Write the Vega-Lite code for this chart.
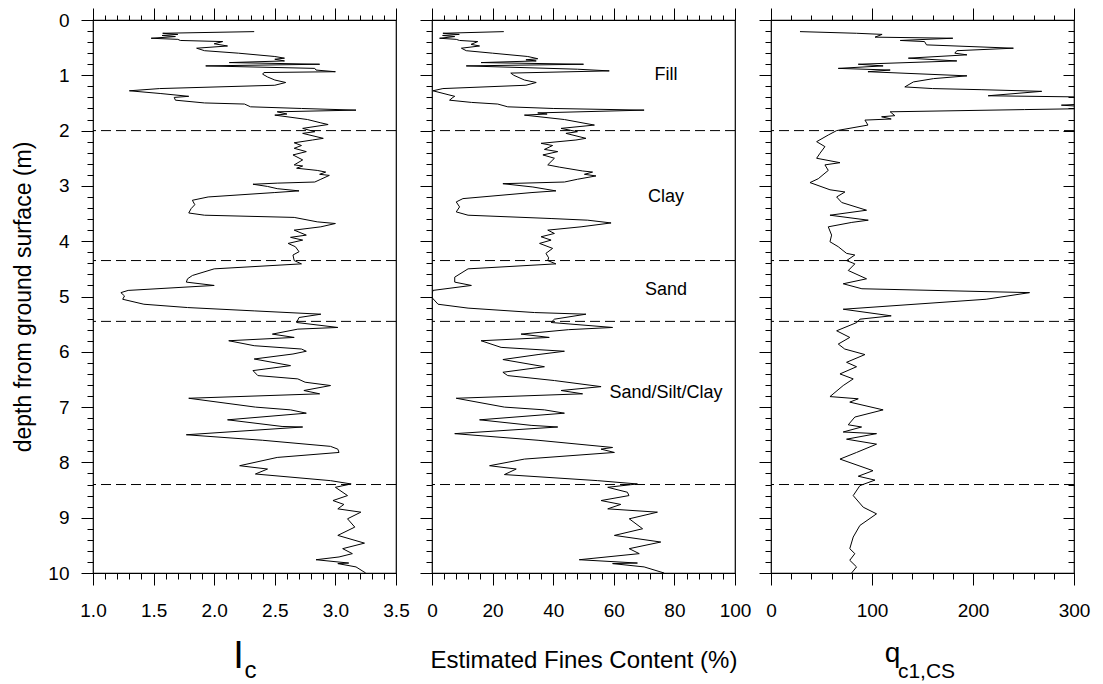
{
  "$schema": "https://vega.github.io/schema/vega-lite/v6.json",
  "background": "white",
  "padding": {"left": 11, "top": 6, "right": 10, "bottom": 5},
  "datasets": {
    "ic": [
      {"depth":0.21,"value":2.33},{"depth":0.24,"value":1.575},{"depth":0.26,"value":1.70},{"depth":0.28,"value":1.57},{"depth":0.30,"value":1.68},{"depth":0.33,"value":1.48},{"depth":0.35,"value":1.70},{"depth":0.37,"value":1.72},{"depth":0.39,"value":2.07},{"depth":0.43,"value":2.0},{"depth":0.47,"value":2.11},{"depth":0.51,"value":1.855},{"depth":0.555,"value":1.92},{"depth":0.60,"value":2.2},{"depth":0.66,"value":2.5},{"depth":0.69,"value":2.58},{"depth":0.71,"value":2.50},{"depth":0.74,"value":2.58},{"depth":0.77,"value":2.125},{"depth":0.80,"value":2.87},{"depth":0.83,"value":1.93},{"depth":0.875,"value":2.83},{"depth":0.905,"value":2.84},{"depth":0.935,"value":3.0},{"depth":0.95,"value":2.41},{"depth":0.98,"value":2.40},{"depth":1.03,"value":2.44},{"depth":1.085,"value":2.5},{"depth":1.13,"value":2.59},{"depth":1.18,"value":2.5},{"depth":1.24,"value":1.55},{"depth":1.28,"value":1.30},{"depth":1.33,"value":1.56},{"depth":1.38,"value":1.79},{"depth":1.40,"value":1.67},{"depth":1.45,"value":1.68},{"depth":1.50,"value":1.92},{"depth":1.52,"value":2.25},{"depth":1.57,"value":2.30},{"depth":1.60,"value":2.72},{"depth":1.63,"value":3.17},{"depth":1.66,"value":2.52},{"depth":1.70,"value":2.6},{"depth":1.72,"value":2.5},{"depth":1.80,"value":2.77},{"depth":1.86,"value":2.88},{"depth":1.89,"value":2.94},{"depth":1.96,"value":2.73},{"depth":2.02,"value":2.83},{"depth":2.05,"value":2.73},{"depth":2.14,"value":2.90},{"depth":2.17,"value":2.81},{"depth":2.22,"value":2.66},{"depth":2.27,"value":2.72},{"depth":2.32,"value":2.66},{"depth":2.38,"value":2.76},{"depth":2.44,"value":2.65},{"depth":2.53,"value":2.73},{"depth":2.62,"value":2.66},{"depth":2.64,"value":2.73},{"depth":2.68,"value":2.68},{"depth":2.72,"value":2.85},{"depth":2.75,"value":2.92},{"depth":2.79,"value":2.87},{"depth":2.81,"value":2.95},{"depth":2.88,"value":2.88},{"depth":2.93,"value":2.83},{"depth":2.95,"value":2.52},{"depth":2.97,"value":2.32},{"depth":3.01,"value":2.44},{"depth":3.05,"value":2.52},{"depth":3.09,"value":2.70},{"depth":3.12,"value":2.5},{"depth":3.20,"value":1.95},{"depth":3.26,"value":1.82},{"depth":3.34,"value":1.84},{"depth":3.41,"value":1.81},{"depth":3.49,"value":1.79},{"depth":3.53,"value":1.92},{"depth":3.57,"value":2.66},{"depth":3.65,"value":2.85},{"depth":3.68,"value":3.0},{"depth":3.74,"value":2.88},{"depth":3.80,"value":2.66},{"depth":3.89,"value":2.76},{"depth":3.93,"value":2.63},{"depth":3.98,"value":2.73},{"depth":4.04,"value":2.61},{"depth":4.10,"value":2.67},{"depth":4.19,"value":2.70},{"depth":4.25,"value":2.65},{"depth":4.35,"value":2.66},{"depth":4.41,"value":2.72},{"depth":4.50,"value":2.0},{"depth":4.62,"value":1.82},{"depth":4.68,"value":1.78},{"depth":4.74,"value":1.77},{"depth":4.80,"value":2.0},{"depth":4.89,"value":1.29},{"depth":4.93,"value":1.23},{"depth":4.99,"value":1.26},{"depth":5.05,"value":1.245},{"depth":5.14,"value":1.42},{"depth":5.20,"value":1.78},{"depth":5.26,"value":2.33},{"depth":5.32,"value":2.88},{"depth":5.38,"value":2.70},{"depth":5.47,"value":2.68},{"depth":5.56,"value":3.02},{"depth":5.59,"value":2.69},{"depth":5.68,"value":2.48},{"depth":5.74,"value":2.66},{"depth":5.80,"value":2.12},{"depth":5.89,"value":2.33},{"depth":5.95,"value":2.72},{"depth":5.99,"value":2.76},{"depth":6.04,"value":2.65},{"depth":6.13,"value":2.33},{"depth":6.25,"value":2.63},{"depth":6.34,"value":2.32},{"depth":6.43,"value":2.36},{"depth":6.49,"value":2.69},{"depth":6.55,"value":2.75},{"depth":6.61,"value":2.96},{"depth":6.70,"value":2.74},{"depth":6.76,"value":2.87},{"depth":6.84,"value":1.79},{"depth":7.00,"value":2.34},{"depth":7.05,"value":2.63},{"depth":7.11,"value":2.76},{"depth":7.23,"value":2.11},{"depth":7.35,"value":2.56},{"depth":7.36,"value":2.73},{"depth":7.50,"value":1.77},{"depth":7.60,"value":2.4},{"depth":7.71,"value":2.96},{"depth":7.76,"value":3.02},{"depth":7.82,"value":3.03},{"depth":7.91,"value":2.52},{"depth":8.06,"value":2.21},{"depth":8.12,"value":2.44},{"depth":8.21,"value":2.34},{"depth":8.33,"value":2.96},{"depth":8.39,"value":3.13},{"depth":8.45,"value":3.0},{"depth":8.60,"value":3.10},{"depth":8.69,"value":2.98},{"depth":8.76,"value":3.07},{"depth":8.84,"value":3.02},{"depth":8.90,"value":3.21},{"depth":9.02,"value":3.10},{"depth":9.17,"value":3.16},{"depth":9.32,"value":3.02},{"depth":9.46,"value":3.24},{"depth":9.56,"value":3.06},{"depth":9.65,"value":3.14},{"depth":9.71,"value":3.03},{"depth":9.76,"value":2.84},{"depth":9.82,"value":3.11},{"depth":9.83,"value":3.02},{"depth":9.89,"value":3.17},{"depth":10.0,"value":3.25}
    ],
    "fc": [
      {"depth":0.21,"value":23.7},{"depth":0.24,"value":3.6},{"depth":0.26,"value":9},{"depth":0.28,"value":3.5},{"depth":0.30,"value":7.5},{"depth":0.33,"value":2.5},{"depth":0.35,"value":8},{"depth":0.37,"value":9.1},{"depth":0.39,"value":15.1},{"depth":0.44,"value":12.9},{"depth":0.47,"value":15.7},{"depth":0.51,"value":9.7},{"depth":0.555,"value":11.3},{"depth":0.60,"value":20},{"depth":0.66,"value":31.6},{"depth":0.70,"value":34.9},{"depth":0.72,"value":31},{"depth":0.74,"value":34.4},{"depth":0.77,"value":16.2},{"depth":0.80,"value":50},{"depth":0.83,"value":11.3},{"depth":0.89,"value":48},{"depth":0.92,"value":58.5},{"depth":0.96,"value":26},{"depth":1.00,"value":27},{"depth":1.085,"value":30.5},{"depth":1.13,"value":34.4},{"depth":1.18,"value":31},{"depth":1.24,"value":3.6},{"depth":1.28,"value":0.3},{"depth":1.35,"value":5.3},{"depth":1.38,"value":7.5},{"depth":1.40,"value":6.9},{"depth":1.45,"value":5.8},{"depth":1.49,"value":13},{"depth":1.52,"value":21.7},{"depth":1.57,"value":25},{"depth":1.60,"value":40},{"depth":1.63,"value":70},{"depth":1.68,"value":34.9},{"depth":1.70,"value":38},{"depth":1.72,"value":30.5},{"depth":1.80,"value":43.7},{"depth":1.90,"value":53.6},{"depth":1.96,"value":42.6},{"depth":2.02,"value":48},{"depth":2.05,"value":44.2},{"depth":2.14,"value":50.8},{"depth":2.17,"value":47.5},{"depth":2.23,"value":36},{"depth":2.27,"value":39.8},{"depth":2.34,"value":37.1},{"depth":2.38,"value":41.5},{"depth":2.44,"value":36.6},{"depth":2.50,"value":40.4},{"depth":2.62,"value":38.2},{"depth":2.66,"value":42},{"depth":2.73,"value":49.7},{"depth":2.75,"value":53},{"depth":2.79,"value":50.3},{"depth":2.82,"value":54.1},{"depth":2.88,"value":48},{"depth":2.93,"value":43.7},{"depth":2.96,"value":23.4},{"depth":3.02,"value":33.3},{"depth":3.09,"value":40.9},{"depth":3.12,"value":33},{"depth":3.23,"value":10.2},{"depth":3.29,"value":8.0},{"depth":3.38,"value":9.1},{"depth":3.47,"value":8.0},{"depth":3.53,"value":11.9},{"depth":3.59,"value":39.3},{"depth":3.62,"value":51.4},{"depth":3.67,"value":59.1},{"depth":3.74,"value":49.2},{"depth":3.80,"value":38.2},{"depth":3.86,"value":40.4},{"depth":3.92,"value":36},{"depth":3.98,"value":39.3},{"depth":4.04,"value":35.5},{"depth":4.13,"value":39.8},{"depth":4.22,"value":37.6},{"depth":4.30,"value":38.5},{"depth":4.35,"value":38.2},{"depth":4.41,"value":40.9},{"depth":4.50,"value":11.9},{"depth":4.65,"value":7.5},{"depth":4.74,"value":7.5},{"depth":4.80,"value":13},{"depth":4.89,"value":0.3},{"depth":4.96,"value":0},{"depth":5.02,"value":0},{"depth":5.14,"value":2},{"depth":5.21,"value":11.9},{"depth":5.29,"value":33.8},{"depth":5.32,"value":50.8},{"depth":5.41,"value":40.4},{"depth":5.47,"value":39.3},{"depth":5.56,"value":59.6},{"depth":5.60,"value":45},{"depth":5.68,"value":29.4},{"depth":5.74,"value":38.7},{"depth":5.80,"value":16.2},{"depth":5.92,"value":22.8},{"depth":5.99,"value":43.7},{"depth":6.05,"value":35},{"depth":6.14,"value":23.4},{"depth":6.27,"value":37.1},{"depth":6.37,"value":23.4},{"depth":6.43,"value":25},{"depth":6.52,"value":40.4},{"depth":6.63,"value":55.8},{"depth":6.70,"value":42.6},{"depth":6.76,"value":49.7},{"depth":6.84,"value":8.0},{"depth":7.00,"value":23.9},{"depth":7.05,"value":37.1},{"depth":7.11,"value":43.7},{"depth":7.23,"value":15.7},{"depth":7.33,"value":32.7},{"depth":7.36,"value":41.5},{"depth":7.48,"value":7.5},{"depth":7.60,"value":35},{"depth":7.73,"value":59.6},{"depth":7.76,"value":55.8},{"depth":7.82,"value":60.2},{"depth":7.94,"value":30.5},{"depth":8.06,"value":19},{"depth":8.12,"value":27.8},{"depth":8.22,"value":23.9},{"depth":8.33,"value":54.7},{"depth":8.39,"value":67.8},{"depth":8.45,"value":58},{"depth":8.54,"value":64.5},{"depth":8.60,"value":65},{"depth":8.69,"value":55.8},{"depth":8.76,"value":62.3},{"depth":8.84,"value":58},{"depth":8.90,"value":74.4},{"depth":9.02,"value":65.1},{"depth":9.20,"value":69.5},{"depth":9.32,"value":60.2},{"depth":9.44,"value":75.5},{"depth":9.56,"value":65.1},{"depth":9.65,"value":68.4},{"depth":9.76,"value":48.6},{"depth":9.82,"value":67.8},{"depth":9.83,"value":59.6},{"depth":9.89,"value":70},{"depth":10.0,"value":76.6}
    ],
    "qc": [
      {"depth":0.21,"value":28.7},{"depth":0.24,"value":84.7},{"depth":0.26,"value":110},{"depth":0.31,"value":103},{"depth":0.33,"value":180},{"depth":0.37,"value":128},{"depth":0.39,"value":152},{"depth":0.45,"value":154},{"depth":0.51,"value":240},{"depth":0.555,"value":184},{"depth":0.60,"value":182},{"depth":0.63,"value":194},{"depth":0.69,"value":136},{"depth":0.74,"value":184},{"depth":0.80,"value":86.4},{"depth":0.83,"value":111},{"depth":0.875,"value":66.6},{"depth":0.905,"value":118},{"depth":0.935,"value":96},{"depth":1.01,"value":194},{"depth":1.06,"value":161},{"depth":1.12,"value":141},{"depth":1.21,"value":132.5},{"depth":1.24,"value":160},{"depth":1.26,"value":208},{"depth":1.29,"value":268},{"depth":1.37,"value":215},{"depth":1.39,"value":300},{"depth":1.45,"value":330},{"depth":1.52,"value":310},{"depth":1.54,"value":287.5},{"depth":1.56,"value":305},{"depth":1.60,"value":320},{"depth":1.62,"value":251},{"depth":1.66,"value":118},{"depth":1.73,"value":122.6},{"depth":1.75,"value":109.5},{"depth":1.79,"value":119},{"depth":1.81,"value":93},{"depth":1.90,"value":96},{"depth":2.0,"value":65},{"depth":2.08,"value":56.7},{"depth":2.20,"value":45.2},{"depth":2.29,"value":53.4},{"depth":2.41,"value":48.5},{"depth":2.50,"value":45.2},{"depth":2.58,"value":68.3},{"depth":2.62,"value":53.4},{"depth":2.72,"value":56.7},{"depth":2.87,"value":46.8},{"depth":2.94,"value":38.6},{"depth":3.07,"value":58.4},{"depth":3.11,"value":73.2},{"depth":3.20,"value":65},{"depth":3.30,"value":70},{"depth":3.44,"value":94.6},{"depth":3.53,"value":58.4},{"depth":3.62,"value":96.3},{"depth":3.66,"value":80},{"depth":3.74,"value":56.7},{"depth":3.89,"value":60},{"depth":4.01,"value":58.4},{"depth":4.10,"value":66.6},{"depth":4.22,"value":74.8},{"depth":4.25,"value":83},{"depth":4.35,"value":74.8},{"depth":4.41,"value":83},{"depth":4.53,"value":76.5},{"depth":4.68,"value":94.6},{"depth":4.77,"value":71.5},{"depth":4.86,"value":90},{"depth":4.93,"value":256},{"depth":5.05,"value":213},{"depth":5.23,"value":71.5},{"depth":5.35,"value":119},{"depth":5.41,"value":88},{"depth":5.47,"value":85},{"depth":5.62,"value":65},{"depth":5.74,"value":78},{"depth":5.86,"value":66.6},{"depth":5.95,"value":73},{"depth":6.05,"value":93},{"depth":6.19,"value":74.8},{"depth":6.27,"value":84.7},{"depth":6.40,"value":68.3},{"depth":6.49,"value":81.4},{"depth":6.61,"value":71.5},{"depth":6.81,"value":58.4},{"depth":6.85,"value":86.4},{"depth":6.91,"value":78},{"depth":7.05,"value":111},{"depth":7.18,"value":83},{"depth":7.32,"value":76.5},{"depth":7.36,"value":89.7},{"depth":7.45,"value":71.5},{"depth":7.48,"value":104.5},{"depth":7.58,"value":74.8},{"depth":7.67,"value":104.5},{"depth":7.82,"value":84.7},{"depth":7.94,"value":68.3},{"depth":8.15,"value":101},{"depth":8.25,"value":86.4},{"depth":8.32,"value":102.9},{"depth":8.42,"value":88},{"depth":8.60,"value":81.4},{"depth":8.81,"value":91.3},{"depth":8.93,"value":104.5},{"depth":9.14,"value":88},{"depth":9.35,"value":81.4},{"depth":9.56,"value":78},{"depth":9.65,"value":83},{"depth":9.77,"value":78},{"depth":9.89,"value":84.7},{"depth":10.0,"value":79.8}
    ],
    "bounds": [{"depth":2.0},{"depth":4.35},{"depth":5.45},{"depth":8.4}],
    "labels": [
      {"depth":1.0,"value":77.2,"text":"Fill"},
      {"depth":3.2,"value":77.2,"text":"Clay"},
      {"depth":4.885,"value":77.2,"text":"Sand"},
      {"depth":6.75,"value":77.2,"text":"Sand/Silt/Clay"}
    ]
  },
  "config": {
    "font": "Liberation Sans",
    "view": {"stroke": "black", "strokeWidth": 1.2},
    "axis": {
      "grid": false, "domain": false,
      "tickColor": "black", "tickWidth": 1,
      "labelColor": "black", "titleColor": "black",
      "labelFont": "Liberation Sans", "titleFont": "Liberation Sans",
      "labelFontSize": 19, "titleFontSize": 23, "titleFontWeight": "normal",
      "labelFlush": false, "labelOverlap": false, "labelBound": false
    }
  },
  "bounds": "flush",
  "spacing": 36,
  "resolve": {"scale": {"x": "independent", "y": "independent"}},
  "hconcat": [
    {
      "width": 303, "height": 553,
      "layer": [
        {
          "data": {"name": "ic"},
          "mark": {"type": "line", "color": "black", "strokeWidth": 1, "clip": true},
          "encoding": {
            "x": {"field": "value", "type": "quantitative",
              "scale": {"domain": [1, 3.5], "nice": false, "zero": false},
              "axis": {"orient": "bottom",
                "values": [1,1.1,1.2,1.3,1.4,1.5,1.6,1.7,1.8,1.9,2,2.1,2.2,2.3,2.4,2.5,2.6,2.7,2.8,2.9,3,3.1,3.2,3.3,3.4,3.5],
                "format": ".1f",
                "labelExpr": "abs(datum.value*2 - round(datum.value*2)) < 0.01 ? datum.label : ''",
                "tickSize": {"condition": {"test": "abs(datum.value*2 - round(datum.value*2)) < 0.01", "value": 12}, "value": 6},
                "labelPadding": 16,
                "title": "I", "titleFontSize": 38, "titleX": 145, "titleY": 94, "titleAlign": "center", "titleBaseline": "alphabetic"}},
            "y": {"field": "depth", "type": "quantitative",
              "scale": {"domain": [0, 10], "reverse": true, "nice": false, "zero": false},
              "axis": {"orient": "left",
                "values": [0,0.2,0.4,0.6,0.8,1,1.2,1.4,1.6,1.8,2,2.2,2.4,2.6,2.8,3,3.2,3.4,3.6,3.8,4,4.2,4.4,4.6,4.8,5,5.2,5.4,5.6,5.8,6,6.2,6.4,6.6,6.8,7,7.2,7.4,7.6,7.8,8,8.2,8.4,8.6,8.8,9,9.2,9.4,9.6,9.8,10],
                "labelExpr": "abs(datum.value - round(datum.value)) < 0.01 ? format(datum.value, '.0f') : ''",
                "tickSize": {"condition": {"test": "abs(datum.value - round(datum.value)) < 0.01", "value": 12}, "value": 6},
                "labelPadding": 12,
                "title": "depth from ground surface (m)", "titleAngle": 270, "titleX": -63, "titleY": 276.5, "titleAlign": "center", "titleBaseline": "alphabetic"}},
            "order": {"field": "depth", "type": "quantitative"}
          }
        },
        {
          "data": {"name": "ic"},
          "mark": {"type": "point", "opacity": 0},
          "encoding": {
            "x": {"field": "value", "type": "quantitative",
              "axis": {"orient": "top",
                "values": [1,1.1,1.2,1.3,1.4,1.5,1.6,1.7,1.8,1.9,2,2.1,2.2,2.3,2.4,2.5,2.6,2.7,2.8,2.9,3,3.1,3.2,3.3,3.4,3.5],
                "labels": false,
                "tickSize": {"condition": {"test": "abs(datum.value*2 - round(datum.value*2)) < 0.01", "value": 12}, "value": 5},
                "title": "c", "titleFontSize": 24, "titleX": 157, "titleY": 657, "titleAlign": "center", "titleBaseline": "alphabetic"}},
            "y": {"field": "depth", "type": "quantitative", "axis": null}
          }
        },
        {
          "data": {"name": "bounds"},
          "mark": {"type": "rule", "color": "black", "strokeWidth": 1, "strokeDash": [10, 5]},
          "encoding": {"y": {"field": "depth", "type": "quantitative", "axis": null}}
        }
      ],
      "resolve": {"axis": {"x": "independent", "y": "independent"}}
    },
    {
      "width": 303, "height": 553,
      "layer": [
        {
          "data": {"name": "fc"},
          "mark": {"type": "line", "color": "black", "strokeWidth": 1, "clip": true},
          "encoding": {
            "x": {"field": "value", "type": "quantitative",
              "scale": {"domain": [0, 100], "nice": false, "zero": false},
              "axis": {"orient": "bottom",
                "values": [0,4,8,12,16,20,24,28,32,36,40,44,48,52,56,60,64,68,72,76,80,84,88,92,96,100],
                "labelExpr": "datum.value % 20 === 0 ? datum.label : ''",
                "tickSize": {"condition": {"test": "datum.value % 20 === 0", "value": 12}, "value": 6},
                "labelPadding": 16,
                "title": "Estimated Fines Content (%)", "titleFontSize": 24, "titleX": 151.5, "titleY": 94, "titleAlign": "center", "titleBaseline": "alphabetic"}},
            "y": {"field": "depth", "type": "quantitative",
              "scale": {"domain": [0, 10], "reverse": true, "nice": false, "zero": false},
              "axis": {"orient": "left",
                "values": [0,0.2,0.4,0.6,0.8,1,1.2,1.4,1.6,1.8,2,2.2,2.4,2.6,2.8,3,3.2,3.4,3.6,3.8,4,4.2,4.4,4.6,4.8,5,5.2,5.4,5.6,5.8,6,6.2,6.4,6.6,6.8,7,7.2,7.4,7.6,7.8,8,8.2,8.4,8.6,8.8,9,9.2,9.4,9.6,9.8,10],
                "labels": false,
                "tickSize": {"condition": {"test": "abs(datum.value - round(datum.value)) < 0.01", "value": 12}, "value": 6},
                "title": null}},
            "order": {"field": "depth", "type": "quantitative"}
          }
        },
        {
          "data": {"name": "fc"},
          "mark": {"type": "point", "opacity": 0},
          "encoding": {
            "x": {"field": "value", "type": "quantitative",
              "axis": {"orient": "top",
                "values": [0,4,8,12,16,20,24,28,32,36,40,44,48,52,56,60,64,68,72,76,80,84,88,92,96,100],
                "labels": false,
                "tickSize": {"condition": {"test": "datum.value % 20 === 0", "value": 12}, "value": 5},
                "title": null}},
            "y": {"field": "depth", "type": "quantitative", "axis": null}
          }
        },
        {
          "data": {"name": "bounds"},
          "mark": {"type": "rule", "color": "black", "strokeWidth": 1, "strokeDash": [10, 5]},
          "encoding": {"y": {"field": "depth", "type": "quantitative", "axis": null}}
        },
        {
          "data": {"name": "labels"},
          "mark": {"type": "text", "fontSize": 18, "font": "Liberation Sans", "align": "center", "baseline": "middle", "color": "black"},
          "encoding": {
            "x": {"field": "value", "type": "quantitative", "axis": null},
            "y": {"field": "depth", "type": "quantitative", "axis": null},
            "text": {"field": "text"}
          }
        }
      ],
      "resolve": {"axis": {"x": "independent", "y": "independent"}}
    },
    {
      "width": 303, "height": 553,
      "layer": [
        {
          "data": {"name": "qc"},
          "mark": {"type": "line", "color": "black", "strokeWidth": 1, "clip": true},
          "encoding": {
            "x": {"field": "value", "type": "quantitative",
              "scale": {"domain": [0, 300], "nice": false, "zero": false},
              "axis": {"orient": "bottom",
                "values": [0,20,40,60,80,100,120,140,160,180,200,220,240,260,280,300],
                "labelExpr": "datum.value % 100 === 0 ? datum.label : ''",
                "tickSize": {"condition": {"test": "datum.value % 100 === 0", "value": 12}, "value": 6},
                "labelPadding": 16,
                "title": "q", "titleFontSize": 28, "titleX": 121, "titleY": 88, "titleAlign": "center", "titleBaseline": "alphabetic"}},
            "y": {"field": "depth", "type": "quantitative",
              "scale": {"domain": [0, 10], "reverse": true, "nice": false, "zero": false},
              "axis": {"orient": "left",
                "values": [0,0.2,0.4,0.6,0.8,1,1.2,1.4,1.6,1.8,2,2.2,2.4,2.6,2.8,3,3.2,3.4,3.6,3.8,4,4.2,4.4,4.6,4.8,5,5.2,5.4,5.6,5.8,6,6.2,6.4,6.6,6.8,7,7.2,7.4,7.6,7.8,8,8.2,8.4,8.6,8.8,9,9.2,9.4,9.6,9.8,10],
                "labels": false,
                "tickSize": {"condition": {"test": "abs(datum.value - round(datum.value)) < 0.01", "value": 12}, "value": 6},
                "title": null}},
            "order": {"field": "depth", "type": "quantitative"}
          }
        },
        {
          "data": {"name": "qc"},
          "mark": {"type": "point", "opacity": 0},
          "encoding": {
            "x": {"field": "value", "type": "quantitative",
              "axis": {"orient": "top",
                "values": [0,20,40,60,80,100,120,140,160,180,200,220,240,260,280,300],
                "labels": false,
                "tickSize": {"condition": {"test": "datum.value % 100 === 0", "value": 12}, "value": 5},
                "title": "c1,CS", "titleFontSize": 21, "titleX": 155, "titleY": 657, "titleAlign": "center", "titleBaseline": "alphabetic"}},
            "y": {"field": "depth", "type": "quantitative",
              "axis": {"orient": "right",
                "values": [0,0.2,0.4,0.6,0.8,1,1.2,1.4,1.6,1.8,2,2.2,2.4,2.6,2.8,3,3.2,3.4,3.6,3.8,4,4.2,4.4,4.6,4.8,5,5.2,5.4,5.6,5.8,6,6.2,6.4,6.6,6.8,7,7.2,7.4,7.6,7.8,8,8.2,8.4,8.6,8.8,9,9.2,9.4,9.6,9.8,10],
                "labels": false,
                "tickSize": {"condition": {"test": "abs(datum.value - round(datum.value)) < 0.01", "value": -11}, "value": -6},
                "title": null}}
          }
        },
        {
          "data": {"name": "bounds"},
          "mark": {"type": "rule", "color": "black", "strokeWidth": 1, "strokeDash": [10, 5]},
          "encoding": {"y": {"field": "depth", "type": "quantitative", "axis": null}}
        }
      ],
      "resolve": {"axis": {"x": "independent", "y": "independent"}}
    }
  ]
}
